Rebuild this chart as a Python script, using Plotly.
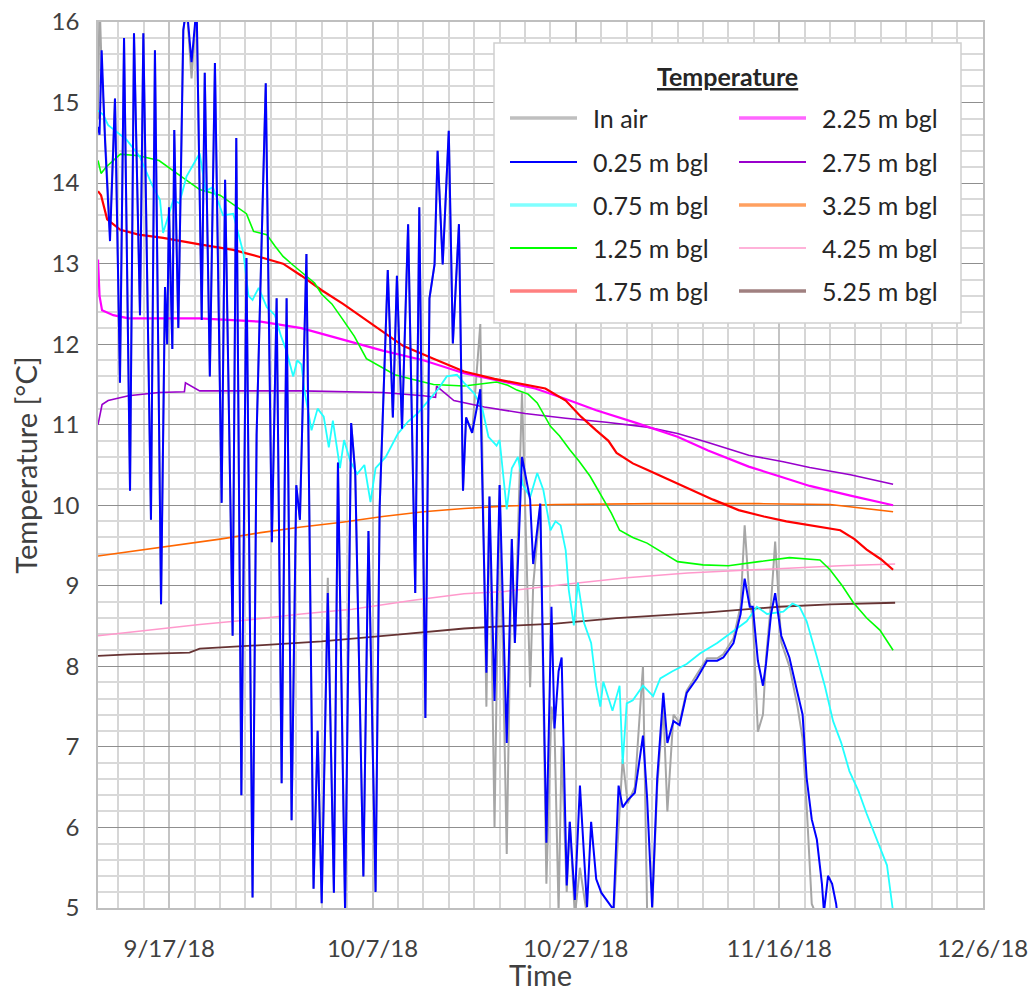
import pandas as pd
import plotly.graph_objects as go

# ---------------- data ----------------
START_DATE = pd.Timestamp("2018-09-10")
X_RANGE = ["2018-09-10", "2018-12-06 01:00"]
Y_RANGE = [5, 16]
TICK0 = "2018-09-17"

SERIES_NAMES = ["In air", "0.25 m bgl", "0.75 m bgl", "1.25 m bgl", "1.75 m bgl",
                "2.25 m bgl", "2.75 m bgl", "3.25 m bgl", "4.25 m bgl", "5.25 m bgl"]

# days since START_DATE shared by the air and 0.25 m records
SHALLOW_DAYS = [0.0, 0.15, 0.36, 0.7, 1.18, 1.67, 2.16, 2.56, 3.15, 3.54, 4.13, 4.46, 5.21, 5.6,
                6.2, 6.59, 6.8, 6.98, 7.31, 7.5, 7.9, 8.39, 8.72, 9.2, 9.7, 10.2, 10.5, 11.0,
                11.5, 12.16, 12.5, 13.24, 13.6, 14.1, 14.6, 15.2, 15.6, 16.5, 17.1, 17.57, 18.06,
                18.55, 19.04, 19.5, 19.86, 20.5, 21.2, 21.6, 22.0, 22.6, 23.2, 23.6, 24.3, 24.9,
                25.3, 26.1, 26.6, 27.3, 27.7, 28.5, 29.0, 29.4, 29.9, 30.5, 31.2, 31.6, 32.2,
                32.6, 33.1, 33.4, 33.9, 34.5, 34.9, 35.5, 35.9, 36.2, 36.8, 37.6, 38.2, 38.5,
                39.0, 39.5, 40.2, 40.7, 41.0, 41.7, 42.5, 42.8, 43.5, 44.1, 44.6, 44.9, 45.3,
                45.6, 46.1, 46.4, 46.9, 47.4, 48.1, 48.5, 49.0, 49.5, 50.7, 51.2, 51.6, 52.1,
                52.8, 53.6, 54.0, 54.5, 55.0, 55.6, 56.0, 56.6, 57.2, 57.9, 58.9, 59.9, 60.9,
                61.5, 62.5, 63.2, 63.6, 64.1, 64.4, 64.9, 65.4, 65.7, 66.2, 66.6, 67.2, 68.0,
                68.8, 69.3, 69.7, 70.2, 70.7, 71.2, 71.4, 71.8, 72.2, 72.6, 73.0, 78.2]

T025_TEMP = [14.7, 14.6, 15.65, 14.5, 13.28, 15.05, 11.52, 15.8, 10.18, 15.86, 12.36, 15.86, 9.82, 15.65,
             8.77, 12.71, 12.0, 13.7, 11.94, 14.66, 12.2, 15.9, 16.2, 15.5, 16.2, 12.3, 15.37, 11.6,
             15.49, 10.03, 14.04, 8.38, 14.56, 6.4, 13.07, 5.13, 10.88, 15.24, 9.54, 12.57, 6.55,
             12.57, 6.09, 10.25, 9.82, 13.12, 5.24, 7.2, 5.06, 8.91, 5.19, 10.53, 4.97, 11.02,
             10.4, 5.39, 9.68, 5.2, 9.97, 12.92, 11.09, 12.85, 10.95, 13.49, 8.91, 13.7, 7.36,
             12.57, 12.99, 14.4, 12.99, 14.65, 12.01, 13.49, 10.18, 11.09, 10.9, 11.44, 7.92, 10.11,
             7.57, 10.25, 7.05, 9.58, 8.29, 10.6, 10.07, 9.27, 10.02, 5.81, 8.74, 7.23, 7.94,
             8.11, 5.28, 6.07, 5.1, 6.52, 5.01, 6.07, 5.36, 5.19, 4.98, 6.52, 6.25, 6.34,
             6.43, 7.14, 6.38, 5.01, 6.61, 7.67, 7.05, 7.32, 7.27, 7.67, 7.85, 8.07, 8.07,
             8.11, 8.29, 8.65, 9.09, 8.74, 8.74, 8.07, 7.76, 8.03, 8.65, 8.91, 8.38, 8.11,
             7.67, 7.4, 6.61, 6.1, 5.85, 5.3, 4.95, 5.4, 5.3, 5.05, 4.6, 3.5]

AIR_TEMP = [14.8, 16.3, 15.4, 14.5, 13.4, 15.05, 11.52, 15.8, 10.18, 15.86, 12.36, 15.86, 9.82, 15.65,
            8.77, 12.71, 12.0, 13.7, 11.94, 14.66, 12.2, 15.9, 16.2, 15.3, 16.2, 12.3, 15.37, 11.6,
            15.49, 10.03, 14.04, 8.38, 14.56, 6.4, 13.07, 5.13, 10.88, 15.24, 9.54, 12.57, 6.55,
            12.57, 6.09, 10.25, 9.82, 13.12, 5.24, 7.2, 5.06, 9.1, 5.19, 10.53, 4.97, 11.02,
            10.4, 5.39, 9.68, 5.2, 9.97, 12.92, 11.09, 12.85, 10.95, 13.49, 8.91, 13.7, 7.36,
            12.57, 12.99, 14.4, 12.99, 14.65, 12.01, 13.49, 10.18, 11.09, 10.9, 12.25, 7.5, 10.11,
            6.0, 10.25, 5.67, 9.58, 8.29, 11.4, 7.74, 9.0, 10.02, 5.3, 7.5, 7.23, 4.95,
            7.0, 5.2, 6.07, 4.9, 5.5, 4.9, 4.9, 4.9, 4.9, 4.9, 6.0, 6.85, 6.3,
            6.5, 8.0, 5.0, 4.95, 6.5, 7.5, 6.2, 7.4, 7.3, 7.7, 7.9, 8.1, 8.1,
            8.15, 8.35, 8.75, 9.75, 8.8, 8.6, 7.19, 7.4, 8.1, 8.8, 9.55, 8.3, 8.0,
            7.5, 7.1, 6.26, 5.05, 4.9, 4.8, 4.7, 4.6, 4.5, 4.4, 4.2, 3.0]

T075_DAYS = [0.0, 0.5, 1.0, 1.7, 2.8, 4.1, 5.3, 6.1, 6.4, 7.4, 8.0, 8.7, 10.0, 10.6, 11.3, 12.3,
             13.3, 14.3, 14.8, 15.2, 15.8, 16.6, 17.4, 18.0, 18.5, 19.2, 19.6, 20.0, 20.3, 21.0,
             21.6, 22.2, 22.7, 23.1, 23.8, 24.2, 24.8, 25.5, 26.2, 26.8, 27.3, 28.3, 29.5, 30.5,
             31.5, 32.5, 33.5, 34.3, 35.3, 36.0, 37.0, 37.8, 38.4, 39.2, 39.5, 40.2, 40.7, 41.3,
             41.8, 42.5, 43.2, 43.8, 44.5, 45.0, 45.5, 46.0, 46.3, 46.8, 47.2, 47.8, 48.5, 49.0,
             49.4, 49.7, 50.6, 51.3, 51.6, 52.0, 52.6, 53.6, 54.6, 55.3, 56.5, 57.9, 59.2, 60.9,
             62.4, 63.8, 64.8, 65.8, 67.4, 68.3, 69.0, 69.7, 70.7, 71.5, 72.3, 73.1, 73.9, 74.8,
             75.6, 76.6, 77.6, 78.2]
T075_TEMP = [14.9, 14.85, 14.72, 14.65, 14.54, 14.33, 13.98, 13.79, 13.38, 13.79, 13.75, 14.08, 14.37, 13.9, 13.95, 13.6,
             13.62, 13.13, 12.6, 12.55, 12.7, 12.46, 12.36, 12.1, 11.93, 11.6, 11.8, 11.75, 11.43, 10.93,
             11.2, 11.1, 10.72, 11.05, 10.46, 10.81, 10.55, 10.39, 10.5, 10.04, 10.46, 10.6, 10.89, 11.04,
             11.15, 11.3, 11.45, 11.6, 11.62, 11.52, 11.39, 11.2, 10.85, 10.74, 10.81, 9.95, 10.46, 10.6,
             10.25, 10.1, 10.4, 10.19, 9.69, 9.8, 9.75, 9.44, 8.95, 8.51, 9.04, 8.54, 8.29, 7.76,
             7.5, 7.81, 7.45, 7.76, 6.79, 7.54, 7.58, 7.76, 7.63, 7.85, 7.94, 8.03, 8.16, 8.29,
             8.43, 8.56, 8.74, 8.65, 8.68, 8.78, 8.74, 8.56, 8.12, 7.75, 7.32, 7.05, 6.7, 6.45,
             6.17, 5.86, 5.53, 4.95]

T125_DAYS = [0.0, 0.3, 0.8, 1.5, 2.2, 4.0, 6.0, 8.0, 10.0, 12.0, 13.5, 14.6, 15.3, 16.6, 17.4, 18.2,
             19.2, 20.5, 21.3, 22.0, 23.0, 24.0, 25.2, 26.4, 28.0, 29.2, 30.7, 33.0, 36.0, 39.2,
             40.3, 41.2, 42.3, 43.2, 44.5, 45.4, 46.4, 47.3, 48.4, 49.7, 50.5, 51.3, 52.6, 54.0,
             55.5, 57.0, 59.5, 62.0, 65.0, 68.0, 71.0, 72.0, 73.2, 74.3, 75.6, 76.9, 78.2]
T125_TEMP = [14.28, 14.12, 14.2, 14.28, 14.36, 14.34, 14.28, 14.1, 13.92, 13.85, 13.72, 13.62, 13.4, 13.36, 13.22, 13.09,
             12.98, 12.84, 12.76, 12.62, 12.5, 12.32, 12.1, 11.82, 11.7, 11.62, 11.57, 11.5, 11.48, 11.53,
             11.49, 11.43, 11.38, 11.27, 10.98, 10.86, 10.69, 10.55, 10.36, 10.07, 9.9, 9.69, 9.6, 9.53,
             9.42, 9.3, 9.26, 9.25, 9.3, 9.35, 9.32, 9.2, 9.0, 8.79, 8.6, 8.45, 8.2]

T175_DAYS = [0.0, 0.3, 0.9, 2.2, 4.0, 6.4, 10.0, 13.3, 16.0, 18.2, 20.0, 22.0, 24.1, 26.0, 28.0, 30.0,
             33.0, 36.0, 39.0, 42.0, 44.0, 46.0, 47.5, 49.0, 50.2, 51.0, 52.6, 54.0, 55.6, 57.0,
             58.8, 60.5, 63.0, 65.5, 67.7, 70.5, 73.0, 74.4, 75.6, 77.0, 78.2]
T175_TEMP = [13.9, 13.85, 13.55, 13.42, 13.36, 13.32, 13.24, 13.17, 13.08, 13.0, 12.85, 12.67, 12.5, 12.33, 12.15, 11.98,
             11.82, 11.66, 11.57, 11.5, 11.45, 11.3, 11.1, 10.93, 10.8, 10.65, 10.52, 10.44, 10.35, 10.27,
             10.16, 10.07, 9.94, 9.86, 9.8, 9.74, 9.69, 9.58, 9.45, 9.33, 9.2]

T225_DAYS = [0.0, 0.15, 0.4, 1.5, 3.0, 10.0, 16.0, 20.0, 24.0, 28.0, 32.0, 36.0, 40.0, 43.0, 46.0, 49.0,
             53.0, 57.0, 60.0, 64.0, 67.0, 70.0, 74.0, 78.2]
T225_TEMP = [13.05, 12.6, 12.42, 12.36, 12.32, 12.32, 12.28, 12.2, 12.06, 11.92, 11.8, 11.64, 11.53, 11.45, 11.32, 11.18,
             11.02, 10.85, 10.68, 10.48, 10.36, 10.24, 10.12, 10.0]

T275_DAYS = [0.0, 0.4, 1.0, 3.0, 6.0, 8.5, 8.6, 10.0, 20.0, 28.0, 32.0, 33.2, 33.3, 35.0, 38.0, 42.0,
             46.0, 50.0, 54.0, 57.0, 60.0, 64.0, 67.4, 70.0, 74.0, 78.2]
T275_TEMP = [11.0, 11.25, 11.3, 11.36, 11.4, 11.41, 11.52, 11.42, 11.42, 11.4, 11.36, 11.34, 11.48, 11.3, 11.22, 11.14,
             11.08, 11.03, 10.97, 10.89, 10.78, 10.62, 10.54, 10.47, 10.38, 10.26]

T325_DAYS = [0.0, 4.0, 8.0, 12.0, 16.0, 20.0, 24.0, 28.0, 32.0, 36.0, 40.0, 45.0, 55.0, 65.0, 72.0, 76.0, 78.2]
T325_TEMP = [9.37, 9.44, 9.51, 9.58, 9.66, 9.73, 9.79, 9.86, 9.92, 9.96, 9.99, 10.01, 10.02, 10.02, 10.01, 9.95, 9.92]

T425_DAYS = [0.0, 5.0, 10.0, 15.0, 20.0, 25.0, 31.0, 36.0, 40.0, 46.0, 52.0, 58.0, 63.0, 67.0, 73.0, 78.4]
T425_TEMP = [8.38, 8.45, 8.52, 8.58, 8.65, 8.71, 8.82, 8.9, 8.93, 9.02, 9.1, 9.16, 9.19, 9.22, 9.25, 9.27]

T525_DAYS = [0.0, 3.0, 9.0, 10.0, 17.0, 22.0, 30.0, 36.0, 40.0, 45.0, 51.0, 55.0, 60.0, 67.0, 72.0, 78.4]
T525_TEMP = [8.13, 8.15, 8.17, 8.22, 8.27, 8.31, 8.4, 8.47, 8.5, 8.53, 8.6, 8.63, 8.67, 8.74, 8.77, 8.79]

# ---------------- styling ----------------
LINE_COLORS = ["#a6a6a6", "#0000ff", "#22ffff", "#00ff00", "#ff0000",
               "#ff00ff", "#9900cc", "#ff6600", "#ff99cc", "#663333"]
LINE_WIDTHS = [2, 2, 1.8, 1.6, 2.2, 2.2, 1.6, 1.6, 1.5, 1.8]
SWATCH_COLORS = ["#bfbfbf", "#0000ff", "#80ffff", "#00ff00", "#ff8080",
                 "#ff66ff", "#9900cc", "#ffa060", "#ff99cc", "#a08080"]
SWATCH_WIDTHS = [3.5, 2, 3.5, 2, 3.5, 3.5, 2, 3.5, 1.5, 3.5]

FONT = "Lato, Carlito, Calibri, sans-serif"
TEXT_COLOR = "#404040"
FIG_W, FIG_H = 1033, 992
M_L, M_R, M_T, M_B = 98, 50, 22, 84
PW = FIG_W - M_L - M_R
PH = FIG_H - M_T - M_B


def px2x(px):
    return (px - M_L) / PW


def py2y(py):
    return (FIG_H - M_B - py) / PH


def to_dates(days):
    return [START_DATE + pd.Timedelta(days=d) for d in days]


series = [
    (SHALLOW_DAYS, AIR_TEMP),
    (SHALLOW_DAYS, T025_TEMP),
    (T075_DAYS, T075_TEMP),
    (T125_DAYS, T125_TEMP),
    (T175_DAYS, T175_TEMP),
    (T225_DAYS, T225_TEMP),
    (T275_DAYS, T275_TEMP),
    (T325_DAYS, T325_TEMP),
    (T425_DAYS, T425_TEMP),
    (T525_DAYS, T525_TEMP),
]

# drawing order: air first, deep sensors, then the shallow ones on top
DRAW_ORDER = [0, 9, 8, 7, 6, 5, 4, 3, 2, 1]

fig = go.Figure()
for i in DRAW_ORDER:
    days, temps = series[i]
    fig.add_trace(go.Scatter(
        x=to_dates(days), y=temps, mode="lines", name=SERIES_NAMES[i],
        line=dict(color=LINE_COLORS[i], width=LINE_WIDTHS[i]),
        showlegend=False, hoverinfo="x+y+name",
    ))

# ---------------- manual legend box ----------------
shapes = [dict(type="rect", xref="paper", yref="paper",
               x0=px2x(494), x1=px2x(961), y0=py2y(323), y1=py2y(43),
               fillcolor="white", line=dict(color="#d0d0d0", width=1.5), layer="above")]
annotations = [dict(xref="paper", yref="paper", x=px2x(727), y=py2y(76),
                    text="<b><u>Temperature</u></b>", showarrow=False,
                    xanchor="center", yanchor="middle",
                    font=dict(family=FONT, size=25, color="#262626"))]
ROWS = [118, 162, 205, 248, 291]
COLS = [(510, 577, 591), (739, 806, 820)]
for k, name in enumerate(SERIES_NAMES):
    c = COLS[k // 5]
    r = ROWS[k % 5]
    shapes.append(dict(type="line", xref="paper", yref="paper",
                       x0=px2x(c[0]), x1=px2x(c[1]), y0=py2y(r), y1=py2y(r),
                       line=dict(color=SWATCH_COLORS[k], width=SWATCH_WIDTHS[k]), layer="above"))
    annotations.append(dict(xref="paper", yref="paper", x=px2x(c[2]), y=py2y(r),
                            text=name, showarrow=False, xanchor="left", yanchor="middle",
                            font=dict(family=FONT, size=25, color="#262626")))

DAY_MS = 86400000
fig.update_layout(
    template="none",
    width=FIG_W, height=FIG_H,
    margin=dict(l=M_L, r=M_R, t=M_T, b=M_B, autoexpand=False),
    paper_bgcolor="white", plot_bgcolor="white",
    font=dict(family=FONT, color=TEXT_COLOR),
    showlegend=False,
    shapes=shapes, annotations=annotations,
    xaxis=dict(
        type="date", range=X_RANGE, autorange=False,
        tickmode="linear", tick0=TICK0, dtick=20 * DAY_MS, tickformat="%-m/%-d/%y",
        showgrid=True, gridcolor="#c4c4c4", gridwidth=2,
        minor=dict(tickmode="linear", tick0=TICK0, dtick=2.5 * DAY_MS,
                   showgrid=True, gridcolor="#d6d6d6", gridwidth=1.5, ticks=""),
        showline=True, linecolor="#bfbfbf", linewidth=1.5, mirror=True,
        ticks="", ticklabelstandoff=18, zeroline=False, automargin=False,
        tickfont=dict(family=FONT, size=24, color=TEXT_COLOR),
        title=dict(text="Time", standoff=10, font=dict(family=FONT, size=29, color=TEXT_COLOR)),
    ),
    yaxis=dict(
        range=Y_RANGE, autorange=False,
        tickmode="linear", tick0=5, dtick=1,
        showgrid=True, gridcolor="#8f8f8f", gridwidth=1,
        minor=dict(tickmode="linear", tick0=5, dtick=0.2,
                   showgrid=True, gridcolor="#d9d9d9", gridwidth=1.5, ticks=""),
        showline=True, linecolor="#bfbfbf", linewidth=1.5, mirror=True,
        ticks="", ticklabelstandoff=12, zeroline=False, automargin=False,
        tickfont=dict(family=FONT, size=24, color=TEXT_COLOR),
        title=dict(text="Temperature [°C]", standoff=5, font=dict(family=FONT, size=29, color=TEXT_COLOR)),
    ),
)

fig.write_html("out.html")
